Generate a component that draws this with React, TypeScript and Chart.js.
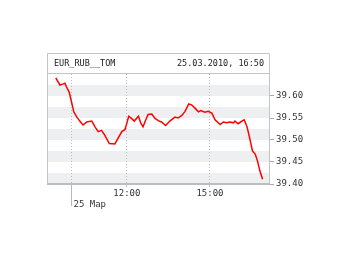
import React, { useEffect, useRef } from "react";
import { Chart, registerables } from "chart.js";

Chart.register(...registerables);

const instrument = "EUR_RUB__TOM";
const stamp = "25.03.2010, 16:50";
const dayLabel = "25 Мар";
const dayStart = "10:00";

const times = [
  "09:26", "09:35", "09:41", "09:46", "09:49", "09:55", "10:00", "10:05", "10:11", "10:18",
  "10:25", "10:33", "10:44", "10:51", "10:58", "11:05", "11:12", "11:22", "11:34", "11:41",
  "11:49", "11:56", "11:59", "12:04", "12:10", "12:16", "12:25", "12:30", "12:35", "12:41",
  "12:46", "12:54", "13:01", "13:08", "13:15", "13:24", "13:33", "13:44", "13:51", "13:59",
  "14:06", "14:14", "14:20", "14:27", "14:35", "14:40", "14:49", "14:56", "15:04", "15:11",
  "15:22", "15:29", "15:36", "15:43", "15:51", "15:54", "16:01", "16:09", "16:14", "16:20",
  "16:25", "16:32", "16:38", "16:43", "16:48", "16:54",
];

const prices = [
  39.641, 39.625, 39.627, 39.629, 39.621, 39.609, 39.587, 39.564, 39.553, 39.543,
  39.534, 39.541, 39.543, 39.530, 39.519, 39.522, 39.511, 39.492, 39.491, 39.504,
  39.519, 39.524, 39.535, 39.554, 39.549, 39.543, 39.554, 39.539, 39.530, 39.546,
  39.558, 39.559, 39.549, 39.544, 39.541, 39.533, 39.543, 39.552, 39.550, 39.556,
  39.565, 39.582, 39.580, 39.573, 39.564, 39.567, 39.563, 39.565, 39.561, 39.546,
  39.535, 39.541, 39.539, 39.541, 39.539, 39.543, 39.537, 39.543, 39.546, 39.531,
  39.509, 39.475, 39.468, 39.452, 39.430, 39.411,
];

const xTickLabels = ["10:00", "12:00", "15:00"];
const yTickValues = [39.4, 39.45, 39.5, 39.55, 39.6];
const stripeStarts = [39.4, 39.45, 39.5, 39.55, 39.6];
const stripeHeight = 0.025;
const xRange = ["09:07", "17:10"];
const yRange = [39.4, 39.65];

const toMin = (s: string) => {
  const [h, m] = s.split(":").map(Number);
  return h * 60 + m;
};
const fmt = (v: number) => {
  const h = Math.floor(v / 60);
  const m = Math.round(v - h * 60);
  return String(h).padStart(2, "0") + ":" + String(m).padStart(2, "0");
};

const FONT = "'DejaVu Sans Mono', monospace";

const decorPlugin = {
  id: "decor",
  beforeDraw(chart: any) {
    const { ctx, chartArea } = chart;
    const y = chart.scales.y;
    ctx.save();
    ctx.fillStyle = "#eeeff1";
    for (const s of stripeStarts) {
      const y0 = y.getPixelForValue(s);
      const y1 = y.getPixelForValue(s + stripeHeight);
      ctx.fillRect(chartArea.left, y1, chartArea.right - chartArea.left, y0 - y1);
    }
    ctx.restore();
  },
  afterDraw(chart: any) {
    const { ctx, chartArea } = chart;
    const x = chart.scales.x;
    const left = chartArea.left;
    const right = chartArea.right;
    const top = chartArea.top - 21;
    const bottom = chartArea.bottom;
    ctx.save();
    ctx.strokeStyle = "#c4c4c4";
    ctx.lineWidth = 1;
    ctx.beginPath();
    ctx.moveTo(left + 0.5, bottom);
    ctx.lineTo(left + 0.5, top + 0.5);
    ctx.lineTo(right - 0.5, top + 0.5);
    ctx.lineTo(right - 0.5, bottom);
    ctx.moveTo(left, chartArea.top - 0.5);
    ctx.lineTo(right, chartArea.top - 0.5);
    ctx.stroke();
    ctx.strokeStyle = "#bdbdbd";
    ctx.lineWidth = 2;
    ctx.beginPath();
    ctx.moveTo(left, bottom);
    ctx.lineTo(right, bottom);
    ctx.stroke();
    // day separator below axis
    const dx = Math.round(x.getPixelForValue(toMin(dayStart))) + 0.5;
    ctx.strokeStyle = "#b8b8b8";
    ctx.lineWidth = 1;
    ctx.beginPath();
    ctx.moveTo(dx, bottom + 1);
    ctx.lineTo(dx, bottom + 22);
    ctx.stroke();
    ctx.fillStyle = "#333";
    ctx.font = "9px " + FONT;
    ctx.textBaseline = "middle";
    ctx.textAlign = "left";
    ctx.fillText(dayLabel, dx + 2, bottom + 21);
    // header
    ctx.fillStyle = "#222";
    ctx.font = "8.5px " + FONT;
    ctx.fillText(instrument, left + 7, top + 11);
    ctx.textAlign = "right";
    ctx.fillText(stamp, right - 6, top + 11);
    ctx.restore();
  },
};

export default function App() {
  const ref = useRef<HTMLCanvasElement | null>(null);
  useEffect(() => {
    if (!ref.current) return;
    const data = times.map((t, i) => ({ x: toMin(t), y: prices[i] }));
    const chart = new Chart(ref.current, {
      type: "line",
      data: {
        datasets: [
          {
            data,
            borderColor: "#ff0000",
            borderWidth: 1.5,
            pointRadius: 0,
            tension: 0,
            fill: false,
          },
        ],
      },
      options: {
        animation: false,
        responsive: true,
        maintainAspectRatio: false,
        layout: { padding: { left: 47, top: 74, right: 0, bottom: 0 } },
        plugins: { legend: { display: false }, tooltip: { enabled: false }, title: { display: false } },
        scales: {
          x: {
            type: "linear",
            min: toMin(xRange[0]),
            max: toMin(xRange[1]),
            afterBuildTicks: (s: any) => {
              s.ticks = xTickLabels.map((t) => ({ value: toMin(t) }));
            },
            afterFit: (s: any) => {
              s.height = 71;
            },
            ticks: {
              autoSkip: false,
              maxRotation: 0,
              padding: 1,
              color: "#333",
              font: { family: FONT, size: 9 },
              callback: (v: any) => (fmt(Number(v)) === dayStart ? "" : fmt(Number(v))),
            },
            grid: {
              drawOnChartArea: true,
              drawTicks: true,
              tickLength: 3,
              color: "#bbbbbb",
              lineWidth: 1,
            },
            border: { display: false, dash: [1, 2] },
          },
          y: {
            type: "linear",
            position: "right",
            min: yRange[0],
            max: yRange[1],
            afterBuildTicks: (s: any) => {
              s.ticks = yTickValues.map((v) => ({ value: v }));
            },
            afterFit: (s: any) => {
              s.width = 70;
            },
            ticks: {
              padding: 2,
              color: "#333",
              font: { family: FONT, size: 9 },
              callback: (v: any) => Number(v).toFixed(2),
            },
            grid: {
              drawOnChartArea: false,
              drawTicks: true,
              tickLength: 4,
              color: "#aaaaaa",
            },
            border: { display: false },
          },
        },
      },
      plugins: [decorPlugin],
    });
    return () => chart.destroy();
  }, []);
  return (
    <div style={{ position: "fixed", left: 0, top: 0, width: 340, height: 255, background: "#fff" }}>
      <canvas ref={ref} />
    </div>
  );
}
